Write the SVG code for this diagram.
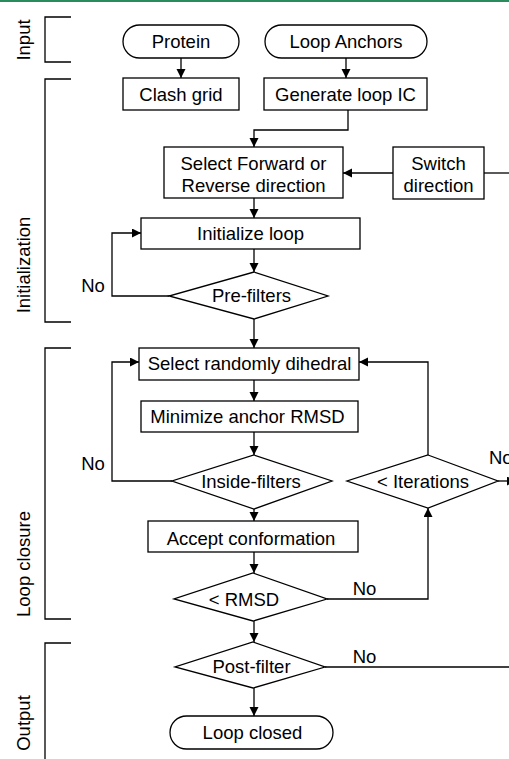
<svg xmlns="http://www.w3.org/2000/svg" width="509" height="759" viewBox="0 0 509 759">
<style>
text{font-family:"Liberation Sans",Arial,sans-serif;font-size:18.5px;fill:#000}
.c{text-anchor:middle}
.box{fill:#fff;stroke:#000;stroke-width:1.3}
.ln{fill:none;stroke:#000;stroke-width:1.3}
.br{fill:none;stroke:#000;stroke-width:1.3}
</style>
<defs>
<marker id="ah" markerUnits="userSpaceOnUse" markerWidth="10" markerHeight="10" refX="9" refY="4.5" orient="auto">
<path d="M0,0 L9,4.5 L0,9 z" fill="#000"/>
</marker>
</defs>
<rect x="0" y="0" width="509" height="2" fill="#2a8c5c"/>
<g id="brackets">
<path class="br" d="M71,17 H45 V62 H71"/>
<path class="br" d="M71,79 H45 V322 H71"/>
<path class="br" d="M71,348 H45 V619 H71"/>
<path class="br" d="M71,643 H45 V759"/>
<text class="c" transform="translate(30,40) rotate(-90)">Input</text>
<text class="c" transform="translate(30,265) rotate(-90)">Initialization</text>
<text class="c" transform="translate(30,564) rotate(-90)">Loop closure</text>
<text class="c" transform="translate(30,723) rotate(-90)">Output</text>
</g>
<g id="connectors">
<path class="ln" d="M181,58 V78" marker-end="url(#ah)"/>
<path class="ln" d="M346,58 V78" marker-end="url(#ah)"/>
<path class="ln" d="M348,110 V130 H254 V147" marker-end="url(#ah)"/>
<path class="ln" d="M393,173 H343" marker-end="url(#ah)"/>
<path class="ln" d="M484,173 H509"/>
<path class="ln" d="M254,198 V218" marker-end="url(#ah)"/>
<path class="ln" d="M254,249 V272" marker-end="url(#ah)"/>
<path class="ln" d="M169,296 H112 V233 H141" marker-end="url(#ah)"/>
<path class="ln" d="M254,319 V348" marker-end="url(#ah)"/>
<path class="ln" d="M254,380 V401" marker-end="url(#ah)"/>
<path class="ln" d="M254,432 V455" marker-end="url(#ah)"/>
<path class="ln" d="M172,481 H112 V362 H139" marker-end="url(#ah)"/>
<path class="ln" d="M428,455 V362 H359" marker-end="url(#ah)"/>
<path class="ln" d="M498,481 H516" marker-end="url(#ah)"/>
<path class="ln" d="M254,509 V521" marker-end="url(#ah)"/>
<path class="ln" d="M254,552 V573" marker-end="url(#ah)"/>
<path class="ln" d="M327,599 H428 V508" marker-end="url(#ah)"/>
<path class="ln" d="M254,621 V642" marker-end="url(#ah)"/>
<path class="ln" d="M325,667 H509"/>
<path class="ln" d="M254,688 V716" marker-end="url(#ah)"/>
<text class="c" x="93" y="291.5">No</text>
<text class="c" x="93" y="469.5">No</text>
<text x="489" y="463.5">No</text>
<text class="c" x="364.5" y="594.5">No</text>
<text class="c" x="364.5" y="662.5">No</text>
</g>
<g id="protein"><rect class="box" x="123" y="25" width="116" height="33" rx="16.5"/><text class="c" x="181" y="48">Protein</text></g>
<g id="anchors"><rect class="box" x="265" y="25" width="162" height="33" rx="16.5"/><text class="c" x="346" y="48">Loop Anchors</text></g>
<g id="clash"><rect class="box" x="123" y="78" width="116" height="32"/><text class="c" x="181" y="100.5">Clash grid</text></g>
<g id="genic"><rect class="box" x="264" y="78" width="163" height="32"/><text class="c" x="345.5" y="100.5">Generate loop IC</text></g>
<g id="selectdir"><rect class="box" x="164" y="147" width="179" height="51"/><text class="c" x="253.5" y="169.5">Select Forward or</text><text class="c" x="253.5" y="191.5">Reverse direction</text></g>
<g id="switch"><rect class="box" x="393" y="147" width="91" height="52"/><text class="c" x="438.5" y="169.5">Switch</text><text class="c" x="438.5" y="191.5">direction</text></g>
<g id="init"><rect class="box" x="141" y="218" width="219" height="31"/><text class="c" x="250.5" y="240">Initialize loop</text></g>
<g id="prefilters"><polygon class="box" points="254,272 328,296 254,319 169,296"/><text class="c" x="251.5" y="302">Pre-filters</text></g>
<g id="selectrand"><rect class="box" x="139" y="348" width="220" height="32"/><text class="c" x="249.5" y="370">Select randomly dihedral</text></g>
<g id="minimize"><rect class="box" x="141" y="401" width="217" height="31"/><text class="c" x="247.5" y="423">Minimize anchor RMSD</text></g>
<g id="inside"><polygon class="box" points="254,455 332,481 254,509 172,481"/><text class="c" x="251" y="487.5">Inside-filters</text></g>
<g id="iterations"><polygon class="box" points="428,455 498,481 428,508 347,481"/><text class="c" x="423" y="487.5">&lt; Iterations</text></g>
<g id="accept"><rect class="box" x="148" y="521" width="210" height="31"/><text class="c" x="251" y="544.5">Accept conformation</text></g>
<g id="rmsd"><polygon class="box" points="253,573 327,599 253,621 174,599"/><text class="c" x="244" y="605.5">&lt; RMSD</text></g>
<g id="postfilter"><polygon class="box" points="253,642 325,667 253,688 175,667"/><text class="c" x="251.5" y="673">Post-filter</text></g>
<g id="closed"><rect class="box" x="170" y="716" width="163" height="33" rx="16.5"/><text class="c" x="252.5" y="739">Loop closed</text></g>
</svg>
